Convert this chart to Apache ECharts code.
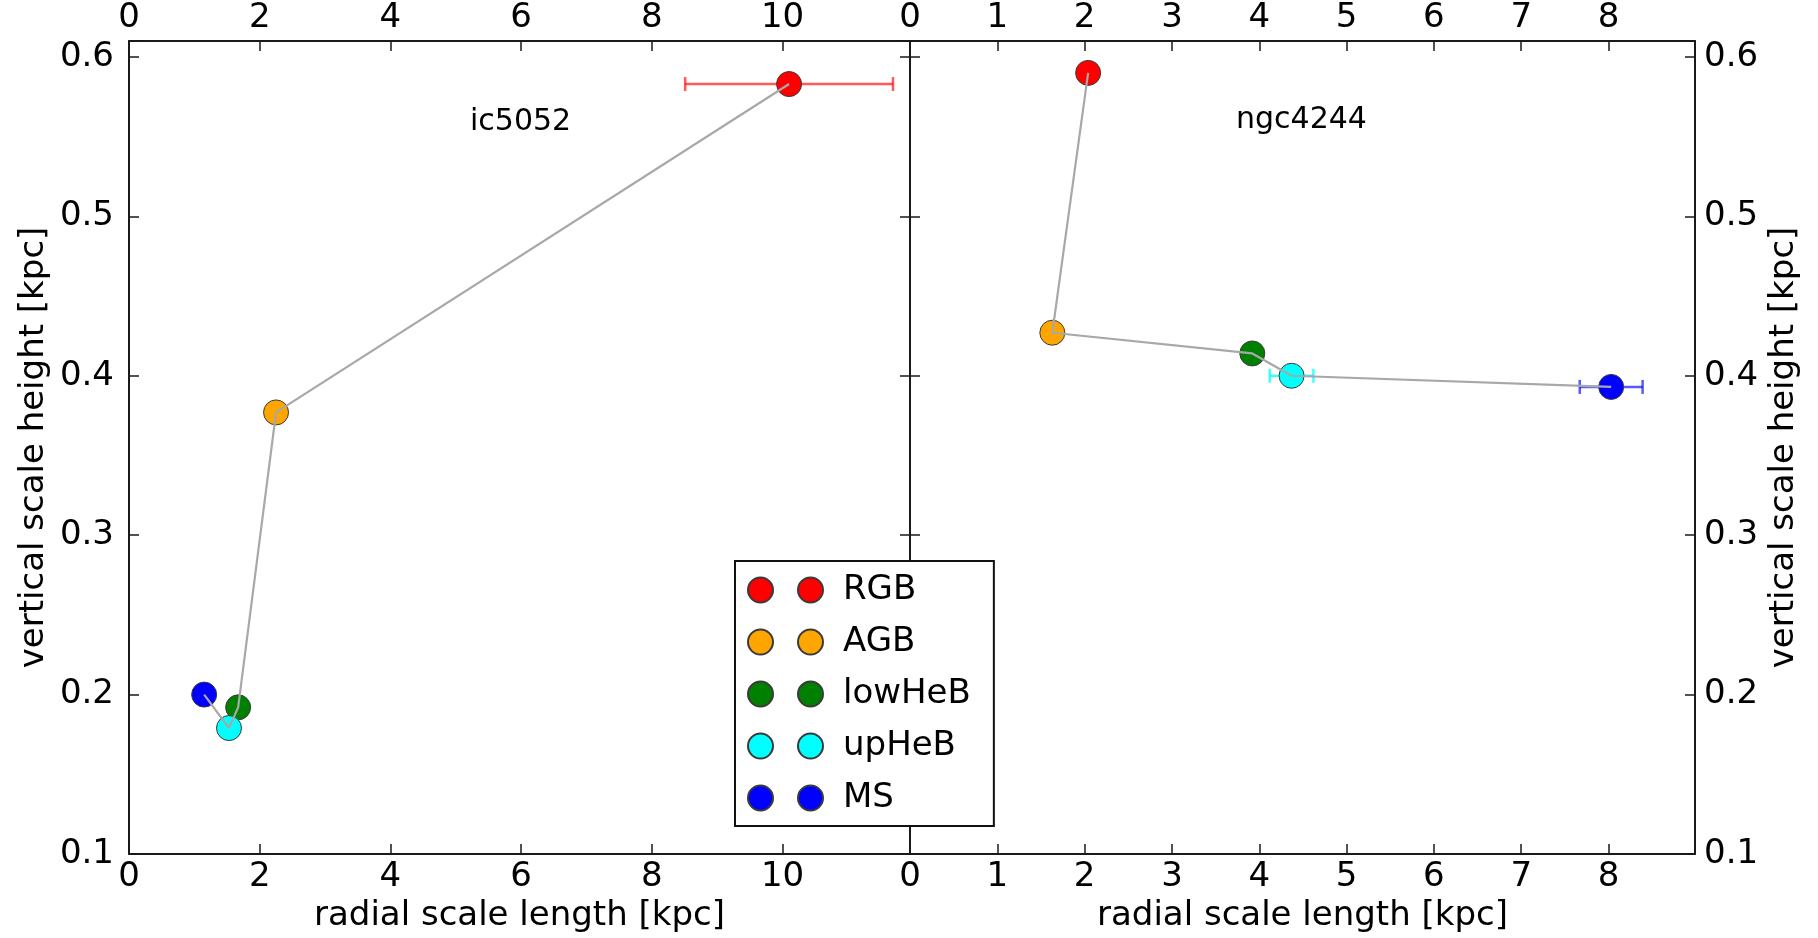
<!DOCTYPE html>
<html>
<head>
<meta charset="utf-8">
<title>Scale lengths and heights of stellar populations</title>
<script src="https://cdn.jsdelivr.net/npm/echarts@6/dist/echarts.min.js"></script>
<style>
  html, body { margin: 0; padding: 0; background: #ffffff; }
  #chart { width: 1818px; height: 938px; }
</style>
</head>
<body>
<div id="chart"></div>
<script>
// Stellar populations, in the order the connecting line visits them
const populations = ['RGB', 'AGB', 'lowHeB', 'upHeB', 'MS'];
const popColors = ['#ff0000', '#ffa500', '#008000', '#00ffff', '#0000ff'];
const barColors = ['rgba(255,0,0,0.65)', 'rgba(255,165,0,0.65)', 'rgba(0,128,0,0.65)', 'rgba(0,255,255,0.75)', 'rgba(0,0,255,0.65)'];

// ic5052: radial scale length, vertical scale height [kpc], radial error
const ic5052Length = [10.10, 2.25, 1.67, 1.53, 1.15];
const ic5052Height = [0.583, 0.377, 0.192, 0.179, 0.200];
const ic5052LengthErr = [1.59, null, null, null, null];

// ngc4244
const ngc4244Length = [2.04, 1.63, 3.92, 4.37, 8.03];
const ngc4244Height = [0.590, 0.427, 0.414, 0.400, 0.393];
const ngc4244LengthErr = [null, null, null, 0.25, 0.36];

// Axis ranges
const heightRange = [0.1, 0.61];
const ic5052LengthRange = [0, 11.95];
const ngc4244LengthRange = [0, 8.99];

const FONT = 'DejaVu Sans';
const AXIS_COLOR = '#1a1a1a';

function intLabel(v) {
  return Math.abs(v - Math.round(v)) < 1e-9 ? String(Math.round(v)) : '';
}
function heightLabel(v) {
  return Math.abs(v * 10 - Math.round(v * 10)) < 1e-6 ? v.toFixed(1) : '';
}

function xAxisFor(gridIndex, range, interval, position, named) {
  return {
    type: 'value',
    gridIndex: gridIndex,
    position: position,
    min: range[0],
    max: range[1],
    interval: interval,
    name: named ? 'radial scale length [kpc]' : '',
    nameLocation: 'middle',
    nameGap: 44,
    nameTextStyle: { fontFamily: FONT, fontSize: 34, color: '#000' },
    axisLine: { show: true, onZero: false, lineStyle: { color: AXIS_COLOR, width: 2 } },
    axisTick: { show: true, inside: true, length: 10, lineStyle: { color: AXIS_COLOR, width: 1.5 } },
    axisLabel: {
      show: true, margin: 6, formatter: intLabel,
      fontFamily: FONT, fontSize: 34, color: '#000',
      showMinLabel: true, showMaxLabel: true, hideOverlap: false
    },
    splitLine: { show: false }
  };
}

function yAxisFor(gridIndex, position, labelled, nameGap, margin) {
  return {
    type: 'value',
    gridIndex: gridIndex,
    position: position,
    min: heightRange[0],
    max: heightRange[1],
    interval: 0.1,
    name: labelled ? 'vertical scale height [kpc]' : '',
    nameLocation: 'middle',
    nameRotate: 90,
    nameGap: nameGap,
    nameTextStyle: { fontFamily: FONT, fontSize: 34, color: '#000' },
    axisLine: { show: true, onZero: false, lineStyle: { color: AXIS_COLOR, width: 2 } },
    axisTick: { show: true, inside: true, length: 10, lineStyle: { color: AXIS_COLOR, width: 1.5 } },
    axisLabel: {
      show: labelled, margin: margin, formatter: heightLabel,
      fontFamily: FONT, fontSize: 34, color: '#000', hideOverlap: false
    },
    splitLine: { show: false }
  };
}

// Horizontal error bar with end caps
function errorBarSeries(name, xAxisIndex, yAxisIndex, lengths, heights, errs) {
  const data = [];
  lengths.forEach((x, i) => {
    if (errs[i] != null) data.push({ value: [x, heights[i], errs[i]], itemStyle: { color: barColors[i] } });
  });
  return {
    type: 'custom',
    name: name,
    xAxisIndex: xAxisIndex,
    yAxisIndex: yAxisIndex,
    z: 2,
    silent: true,
    encode: { x: 0, y: 1 },
    data: data,
    renderItem: function (params, api) {
      const x = api.value(0), y = api.value(1), e = api.value(2);
      const l = api.coord([x - e, y]);
      const r = api.coord([x + e, y]);
      const color = api.visual('color');
      const st = { stroke: color, lineWidth: 2.5 };
      const cap = 7;
      return {
        type: 'group',
        children: [
          { type: 'line', shape: { x1: l[0], y1: l[1], x2: r[0], y2: r[1] }, style: st },
          { type: 'line', shape: { x1: l[0], y1: l[1] - cap, x2: l[0], y2: l[1] + cap }, style: st },
          { type: 'line', shape: { x1: r[0], y1: r[1] - cap, x2: r[0], y2: r[1] + cap }, style: st }
        ]
      };
    }
  };
}

function panelSeries(tag, xAxisIndex, yAxisIndex, lengths, heights, errs) {
  const out = [];
  out.push(errorBarSeries(tag + ' error', xAxisIndex, yAxisIndex, lengths, heights, errs));
  populations.forEach((pop, i) => {
    out.push({
      type: 'scatter',
      name: pop,
      xAxisIndex: xAxisIndex,
      yAxisIndex: yAxisIndex,
      z: 3,
      symbol: 'circle',
      symbolSize: 25,
      itemStyle: { color: popColors[i], opacity: 1, borderColor: '#3a3a3a', borderWidth: 1 },
      data: [[lengths[i], heights[i]]]
    });
  });
  out.push({
    type: 'line',
    name: tag + ' track',
    xAxisIndex: xAxisIndex,
    yAxisIndex: yAxisIndex,
    z: 4,
    symbol: 'none',
    silent: true,
    lineStyle: { color: '#a8a8a8', width: 2.2 },
    data: lengths.map((x, i) => [x, heights[i]])
  });
  return out;
}

const chart = echarts.init(document.getElementById('chart'), null, { renderer: 'canvas' });

const twoDots = 'path://M0,12.5A12.5,12.5,0,1,1,25,12.5A12.5,12.5,0,1,1,0,12.5ZM50,12.5A12.5,12.5,0,1,1,75,12.5A12.5,12.5,0,1,1,50,12.5Z';

chart.setOption({
  animation: false,
  backgroundColor: '#ffffff',
  grid: [
    { left: 129, right: 908, top: 41, bottom: 84, containLabel: false, outerBoundsMode: 'none' },
    { left: 910, right: 123, top: 41, bottom: 84, containLabel: false, outerBoundsMode: 'none' }
  ],
  xAxis: [
    xAxisFor(0, ic5052LengthRange, 2, 'bottom', true),
    xAxisFor(0, ic5052LengthRange, 2, 'top', false),
    xAxisFor(1, ngc4244LengthRange, 1, 'bottom', true),
    xAxisFor(1, ngc4244LengthRange, 1, 'top', false)
  ],
  yAxis: [
    yAxisFor(0, 'left', true, 78, 15),
    yAxisFor(0, 'right', false, 0, 8),
    yAxisFor(1, 'left', false, 0, 8),
    yAxisFor(1, 'right', true, 72, 9)
  ],
  legend: {
    show: true,
    orient: 'vertical',
    left: 735,
    top: 561,
    padding: [12, 23, 11, 12],
    itemGap: 18,
    itemWidth: 75,
    itemHeight: 25,
    icon: twoDots,
    selectedMode: false,
    backgroundColor: '#ffffff',
    borderColor: '#111111',
    borderWidth: 2,
    borderRadius: 0,
    data: populations,
    textStyle: { fontFamily: FONT, fontSize: 34, color: '#000', lineHeight: 34, padding: [0, 0, 0, 15] }
  },
  graphic: [
    { type: 'text', left: 470, top: 107, z: 10, style: { text: 'ic5052', fontFamily: FONT, fontSize: 30, fill: '#000' } },
    { type: 'text', left: 1236, top: 105, z: 10, style: { text: 'ngc4244', fontFamily: FONT, fontSize: 30, fill: '#000' } }
  ],
  series: [].concat(
    panelSeries('ic5052', 0, 0, ic5052Length, ic5052Height, ic5052LengthErr),
    panelSeries('ngc4244', 2, 3, ngc4244Length, ngc4244Height, ngc4244LengthErr)
  )
});
</script>
</body>
</html>
